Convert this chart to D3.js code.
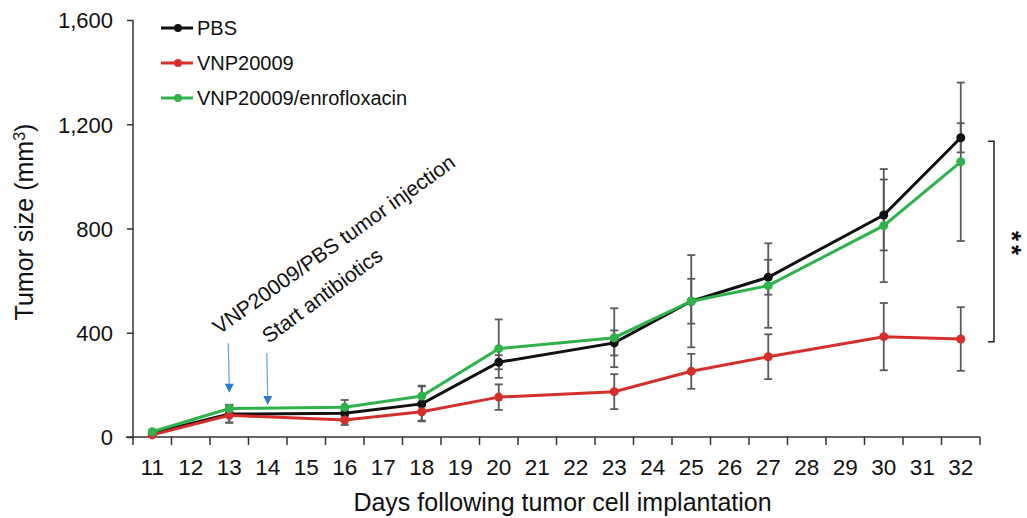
<!DOCTYPE html>
<html>
<head>
<meta charset="utf-8">
<script src="https://cdn.jsdelivr.net/npm/d3@7"></script>
<style>
  body { margin: 0; background: #fff; }
  svg text { font-family: "Liberation Sans", Arial, sans-serif; fill: #111; }
</style>
</head>
<body>
<svg></svg>
<script>
var screen = {width: 1027, height: 518};
var margins = {top: 20, right: 47, bottom: 81, left: 133};

// all days on the axis, and days with measurements
var days = d3.range(11, 33);
var sampleDays = [11, 13, 16, 18, 20, 23, 25, 27, 30, 32];
var yTicks = [0, 400, 800, 1200, 1600];

// tumor size means and error (mm3)
var pbs    = [15, 88, 91, 127, 287, 361, 521, 613, 852, 1148];
var pbsErr = [5, 33, 15, 67, 27, 48, 86, 67, 136, 56];
var vnp    = [8, 83, 65, 97, 153, 174, 252, 308, 385, 376];
var vnpErr = [5, 28, 19, 34, 49, 67, 67, 86, 129, 122];
var enro    = [20, 109, 114, 157, 339, 381, 521, 581, 811, 1056];
var enroErr = [5, 15, 28, 40, 112, 113, 177, 162, 217, 304];

var seriesNames = ["PBS", "VNP20009", "VNP20009/enrofloxacin"];
var seriesColors = ["#111111", "#d3302b", "#2fb24c"];

// annotation arrows: day, start value, tip value
var arrows = [[13, 360, 170], [14, 322, 123]];
var notes = ["VNP20009/PBS tumor injection", "Start antibiotics"];
var bracketRange = [1135, 365];

var setup = function()
{
    var svg = d3.select("svg")
    .attr("width", screen.width)
    .attr("height", screen.height);

    var width = screen.width - margins.left - margins.right;
    var height = screen.height - margins.top - margins.bottom;

    var xScale = d3.scaleBand().domain(days).range([margins.left, margins.left + width]);
    var yScale = d3.scaleLinear().domain([0, 1600]).range([margins.top + height, margins.top]);
    var xc = function(d){ return xScale(d) + xScale.bandwidth() / 2; };

    drawAxes(svg, xScale, yScale, width, height);
    drawSeries(svg, xc, yScale);
    drawLegend(svg);
    drawNotes(svg, xScale, xc, yScale);
}

var drawAxes = function(svg, xScale, yScale, width, height)
{
    var y0 = margins.top + height;

    // y axis
    var yAxis = d3.axisLeft(yScale).tickValues(yTicks).tickSize(6).tickPadding(14)
    .tickFormat(d3.format(","));
    var gy = svg.append("g")
    .attr("transform", "translate(" + margins.left + ",0)")
    .call(yAxis);
    gy.select(".domain").remove();
    gy.append("line")
    .attr("x1", 0).attr("x2", 0)
    .attr("y1", margins.top).attr("y2", y0 + 8)
    .attr("stroke", "#333").attr("stroke-width", 1.5);
    gy.selectAll(".tick line").attr("stroke", "#333").attr("stroke-width", 1.5);
    gy.selectAll("text").style("font-size", "22px").attr("dy", "0.36em");

    // x axis: labels centred in bands, ticks on band edges
    var xAxis = d3.axisBottom(xScale).tickSize(0).tickPadding(0);
    var gx = svg.append("g")
    .attr("transform", "translate(0," + y0 + ")")
    .call(xAxis);
    gx.select(".domain").remove();
    gx.selectAll("text").style("font-size", "22.5px").attr("dy", null).attr("y", 38);

    gx.append("line")
    .attr("x1", margins.left - 7).attr("x2", margins.left + width)
    .attr("y1", 0).attr("y2", 0)
    .attr("stroke", "#333").attr("stroke-width", 1.5);

    var edges = days.map(function(d){ return xScale(d); }).concat([margins.left + width]);
    gx.selectAll(".edge")
    .data(edges.slice(1))
    .enter()
    .append("line")
    .attr("class", "edge")
    .attr("x1", function(d){ return d; }).attr("x2", function(d){ return d; })
    .attr("y1", 0).attr("y2", 8)
    .attr("stroke", "#333").attr("stroke-width", 1.5);

    svg.append("text")
    .attr("x", margins.left + width / 2 + 6)
    .attr("y", 511)
    .attr("text-anchor", "middle")
    .style("font-size", "25px")
    .text("Days following tumor cell implantation");

    var yt = svg.append("text")
    .attr("transform", "translate(33," + 222 + ") rotate(-90)")
    .attr("text-anchor", "middle")
    .style("font-size", "25px");
    yt.append("tspan").text("Tumor size (mm");
    yt.append("tspan").attr("baseline-shift", "super").style("font-size", "16px").text("3");
    yt.append("tspan").text(")");
}

var drawSeries = function(svg, xc, yScale)
{
    var all = [[pbs, pbsErr], [vnp, vnpErr], [enro, enroErr]];

    // error bars under the lines
    all.forEach(function(s, k)
    {
        var pts = sampleDays.map(function(d, i){ return {day: d, v: s[0][i], e: s[1][i]}; });
        var g = svg.append("g").attr("stroke", "#5a5a5a").attr("stroke-width", 1.8);
        g.selectAll(".bar").data(pts).enter().append("line")
        .attr("x1", function(d){ return xc(d.day); })
        .attr("x2", function(d){ return xc(d.day); })
        .attr("y1", function(d){ return yScale(d.v + d.e); })
        .attr("y2", function(d){ return yScale(d.v - d.e); });
        [1, -1].forEach(function(sign)
        {
            g.selectAll(".cap" + sign).data(pts).enter().append("line")
            .attr("x1", function(d){ return xc(d.day) - 4; })
            .attr("x2", function(d){ return xc(d.day) + 4; })
            .attr("y1", function(d){ return yScale(d.v + sign * d.e); })
            .attr("y2", function(d){ return yScale(d.v + sign * d.e); });
        });
    });

    var line = d3.line()
    .x(function(d){ return xc(d[0]); })
    .y(function(d){ return yScale(d[1]); });

    all.forEach(function(s, k)
    {
        var pts = sampleDays.map(function(d, i){ return [d, s[0][i]]; });
        svg.append("path")
        .datum(pts)
        .attr("d", line)
        .attr("fill", "none")
        .attr("stroke", seriesColors[k])
        .attr("stroke-width", 3);
        svg.append("g").selectAll("circle")
        .data(pts)
        .enter()
        .append("circle")
        .attr("cx", function(d){ return xc(d[0]); })
        .attr("cy", function(d){ return yScale(d[1]); })
        .attr("r", 4.5)
        .attr("fill", seriesColors[k]);
    });
}

var drawLegend = function(svg)
{
    var rows = svg.append("g").selectAll("g")
    .data(seriesNames)
    .enter()
    .append("g")
    .attr("transform", function(d, i){ return "translate(161," + (28 + i * 35) + ")"; });

    rows.append("line")
    .attr("x1", 0).attr("x2", 32)
    .attr("stroke", function(d, i){ return seriesColors[i]; })
    .attr("stroke-width", 3);
    rows.append("circle")
    .attr("cx", 17).attr("r", 4)
    .attr("fill", function(d, i){ return seriesColors[i]; });
    rows.append("text")
    .attr("x", 36).attr("dy", "0.36em")
    .style("font-size", "20px")
    .text(function(d){ return d; });
}

var drawNotes = function(svg, xScale, xc, yScale)
{
    arrows.forEach(function(a)
    {
        var x = xc(a[0]);
        var top = yScale(a[1]), tip = yScale(a[2]);
        svg.append("line")
        .attr("x1", x - 1).attr("x2", x)
        .attr("y1", top).attr("y2", tip - 7)
        .attr("stroke", "#6fa8dc").attr("stroke-width", 1.3);
        svg.append("path")
        .attr("d", "M" + (x - 4.5) + "," + (tip - 9) + "L" + (x + 4.5) + "," + (tip - 9) + "L" + x + "," + tip + "Z")
        .attr("fill", "#2a7bd0");
    });

    svg.append("text")
    .attr("transform", "translate(" + (xc(13) - 10) + "," + 335 + ") rotate(-35.5)")
    .style("font-size", "21px")
    .text(notes[0]);
    svg.append("text")
    .attr("transform", "translate(" + (xc(14) + 1) + "," + 344 + ") rotate(-36.5)")
    .style("font-size", "21px")
    .text(notes[1]);

    // significance bracket
    var bx = xScale.range()[1] + 14;
    var t = yScale(bracketRange[0]), b = yScale(bracketRange[1]);
    svg.append("path")
    .attr("d", "M" + (bx - 6) + "," + t + "H" + bx + "V" + b + "H" + (bx - 6))
    .attr("fill", "none")
    .attr("stroke", "#222")
    .attr("stroke-width", 1.5);
    // two stacked asterisks as one text run turned on its side
    svg.append("text")
    .attr("transform", "translate(" + (bx + 9) + ",231) rotate(90)")
    .style("font-size", "26px")
    .style("font-weight", "bold")
    .style("letter-spacing", "4px")
    .text("**");
}

setup();
</script>
</body>
</html>
